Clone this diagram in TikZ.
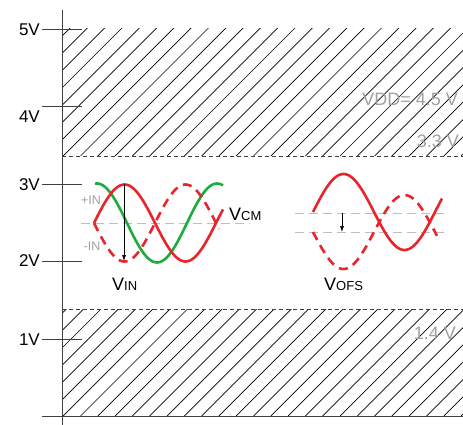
\documentclass[tikz,border=0pt]{standalone}
\usepackage{fontspec}
\setmainfont{Liberation Sans}
\usepackage{xcolor}
\usepackage{tikz}
\usetikzlibrary{arrows.meta}

\definecolor{sigred}{RGB}{234,36,44}
\definecolor{siggreen}{RGB}{28,172,62}
\definecolor{lbgray}{RGB}{160,160,160}
\definecolor{refgray}{RGB}{190,190,190}
\newcommand{\sigv}[1]{{\fontsize{18}{20}\selectfont V}{\fontsize{13}{15}\selectfont #1}}

\tikzset{
  axis/.style={line width=0.8pt, black!75},
  hatch/.style={line width=0.7pt, black},
  bound/.style={line width=0.8pt, black!75, dash pattern=on 4pt off 3pt},
  refline/.style={line width=0.9pt, refgray, dash pattern=on 9pt off 5pt},
  wave/.style={line width=2.6pt, sigred, smooth},
  wavedash/.style={wave, dash pattern=on 9pt off 6pt},
  ticklbl/.style={anchor=east, inner sep=0pt, font=\fontsize{17}{19}\selectfont},
  graylbl/.style={inner sep=0pt, text=lbgray, font=\fontsize{18}{20}\selectfont},
  inlbl/.style={inner sep=0pt, text=lbgray, font=\fontsize{12.5}{14}\selectfont},
  siglbl/.style={inner sep=0pt, anchor=base west},
  sigarrow/.style={line width=0.6pt, -{Latex[length=6pt,width=4pt]}}
}

\begin{document}
\begin{tikzpicture}[x=1pt, y=-1pt]
			\useasboundingbox (0,0) rectangle (463,425);
			% Hatched forbidden areas:
			\begin{scope}
				\clip (62,29) rectangle (463,156);
				\foreach \k in {-8,...,24}
					\draw[hatch] ({63.2+17.3*\k},156) -- ++(130,-130);
			\end{scope}
			\begin{scope}
				\clip (62,309) rectangle (463,416);
				\foreach \k in {-8,...,24}
					\draw[hatch] ({63.2+17.3*\k},416) -- ++(110,-110);
			\end{scope}
			\draw[bound] (62,156) -- (463,156);
			\draw[bound] (62,309) -- (463,309);
			% Axes and ticks:
			\draw[axis] (62,10) -- (62,425);
			\draw[axis] (42,416) -- (463,416);
			\foreach \v/\y/\ly in {5/29/30, 4/106/117, 3/184/185, 2/261/261, 1/339/340} {
				\draw[axis] (42,\y) -- (82,\y);
				\node[ticklbl] (tick\v) at (40,\ly) {\v V};
			}
			% Range labels:
			\node[graylbl, anchor=east] (vdd) at (458,99) {VDD= 4.5 V};
			\node[graylbl, anchor=east] (hi) at (459,141) {3.3 V};
			\node[graylbl, anchor=east] (lo) at (456,333) {1.4 V};
			% Differential input:
			\draw[refline] (81,223) -- (250,223);
			\draw[wave, siggreen] plot[domain=95:223, samples=90] (\x, {223-39.5*cos((\x-97)*3)});
			\draw[wavedash] plot[domain=94:219, samples=90] (\x, {223+38.5*sin((\x-94)/122*360)});
			\draw[wave] plot[domain=94:223, samples=90] (\x, {223-38.5*sin((\x-94)/122*360)});
			\coordinate (vintop) at (124,184);
			\coordinate (vinbot) at (124,261);
			\draw[sigarrow] (vintop) -- (vinbot);
			\node[inlbl] (inp) at (91,200) {+IN};
			\node[inlbl] (inn) at (92,246) {-IN};
			\node[siglbl] (vcm) at (229,220) {\sigv{CM}};
			\node[siglbl] (vin) at (112,290) {\sigv{IN}};
			% Offset:
			\draw[refline] (295,213) -- (447,213);
			\draw[refline] (295,232) -- (447,232);
			\draw[wavedash] plot[domain=313:437, samples=90] (\x, {232+37*sin((\x-313)/122*360)});
			\draw[wave] plot[domain=313:442, samples=90] (\x, {212-38*sin((\x-313)/122*360)});
			\coordinate (ofstop) at (342,213);
			\coordinate (ofsbot) at (342,232);
			\draw[sigarrow] (ofstop) -- (ofsbot);
			\node[siglbl] (vofs) at (324,290) {\sigv{OFS}};
		\end{tikzpicture}
\end{document}
